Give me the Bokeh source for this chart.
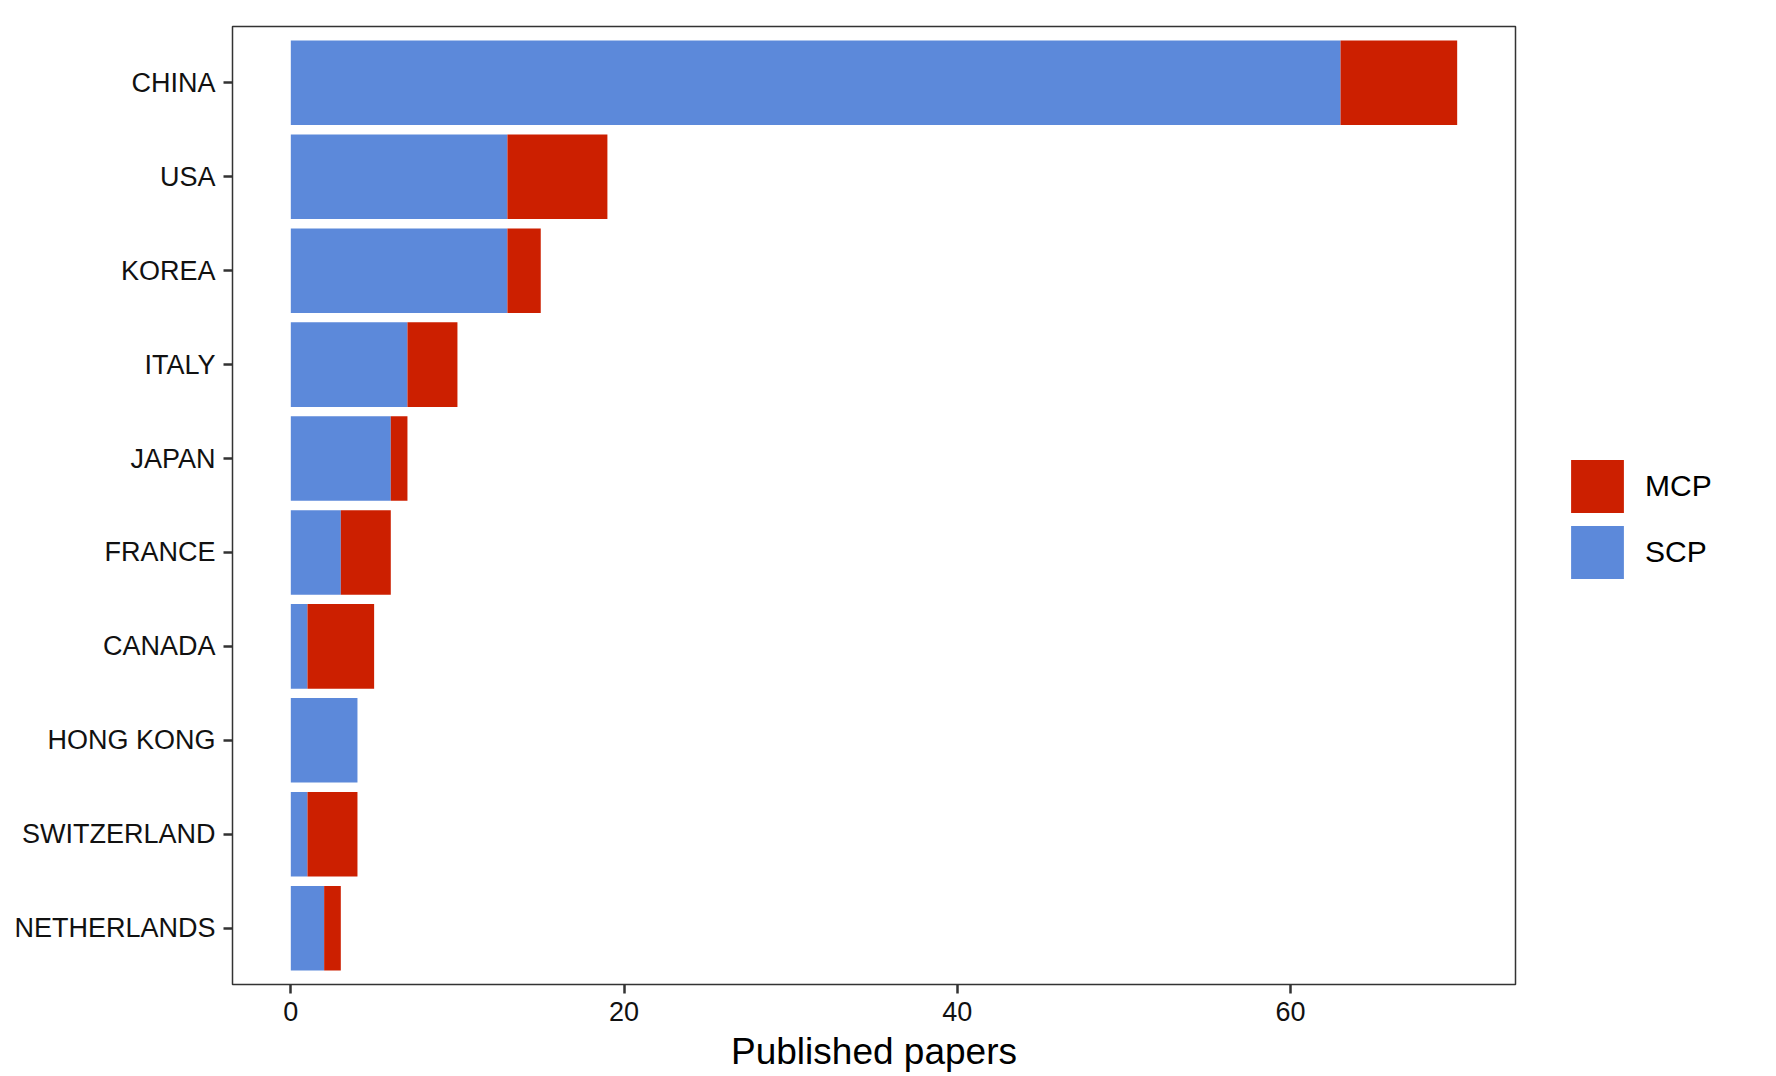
from bokeh.plotting import figure
from bokeh.layouts import row
from bokeh.models import Range1d, FactorRange, Legend, LegendItem, ColumnDataSource, FixedTicker
from bokeh.embed import file_html
from bokeh.resources import INLINE

countries = ["CHINA", "USA", "KOREA", "ITALY", "JAPAN", "FRANCE", "CANADA",
             "HONG KONG", "SWITZERLAND", "NETHERLANDS"]
scp = [63, 13, 13, 7, 6, 3, 1, 4, 1, 2]
mcp = [7, 6, 2, 3, 1, 3, 4, 0, 3, 1]
x_ticks = [0, 20, 40, 60]
series = ["MCP", "SCP"]

SCP_COLOR = "#5C89DA"
MCP_COLOR = "#CC1F00"
FONT = "Liberation Sans"

source = ColumnDataSource(dict(country=countries, SCP=scp, MCP=mcp))

p = figure(width=1520, height=1076,
           y_range=FactorRange(factors=list(reversed(countries)), range_padding=0.1,
                               range_padding_units="absolute"),
           x_range=Range1d(-3.5, 73.5),
           output_backend="svg", toolbar_location=None,
           min_border_left=232, min_border_top=26, min_border_bottom=92,
           min_border_right=5)

rs = p.hbar_stack(["SCP", "MCP"], y="country", height=0.9, source=source,
                  color=[SCP_COLOR, MCP_COLOR], line_color=None)

p.xgrid.visible = False
p.ygrid.visible = False
p.outline_line_color = "#333333"
p.outline_line_width = 1.5

for ax in (p.xaxis[0], p.yaxis[0]):
    ax.axis_line_color = None
    ax.major_tick_line_color = "#333333"
    ax.major_tick_line_width = 2.5
    ax.major_tick_out = 9
    ax.major_tick_in = 0
    ax.minor_tick_line_color = None
    ax.major_label_text_font = FONT
    ax.major_label_text_font_size = "27px"
    ax.major_label_text_color = "#111111"

p.xaxis.ticker = FixedTicker(ticks=x_ticks)
p.xaxis.major_label_standoff = 8
p.yaxis.major_label_standoff = 8
p.xaxis.axis_label = "Published papers"
p.xaxis.axis_label_text_font = FONT
p.xaxis.axis_label_text_font_size = "37px"
p.xaxis.axis_label_text_font_style = "normal"
p.xaxis.axis_label_text_color = "#000000"
p.xaxis.axis_label_standoff = 7

# legend panel (swatches come from zero-width placeholder renderers)
lp = figure(width=256, height=1076, x_range=Range1d(0, 1), y_range=Range1d(0, 1),
            x_axis_type=None, y_axis_type=None, output_backend="svg",
            toolbar_location=None, min_border=0, outline_line_color=None)
lp.xgrid.visible = False
lp.ygrid.visible = False
leg_src = ColumnDataSource(dict(y=[0.5], right=[0]))
r_mcp = lp.hbar(y="y", right="right", height=0.5, source=leg_src,
                color=MCP_COLOR, line_color=None)
r_scp = lp.hbar(y="y", right="right", height=0.5, source=leg_src,
                color=SCP_COLOR, line_color=None)

legend = Legend(items=[LegendItem(label=series[0], renderers=[r_mcp]),
                       LegendItem(label=series[1], renderers=[r_scp])],
                location=(44, 399),
                glyph_width=66, glyph_height=66, spacing=-8,
                label_standoff=15, label_text_font=FONT,
                label_text_font_size="30px", label_height=66,
                label_text_color="#000000",
                border_line_color=None, background_fill_alpha=0,
                padding=10, margin=0)
lp.add_layout(legend, "center")

layout = row(p, lp, spacing=0)
open("out.html", "w").write(file_html(layout, INLINE))
